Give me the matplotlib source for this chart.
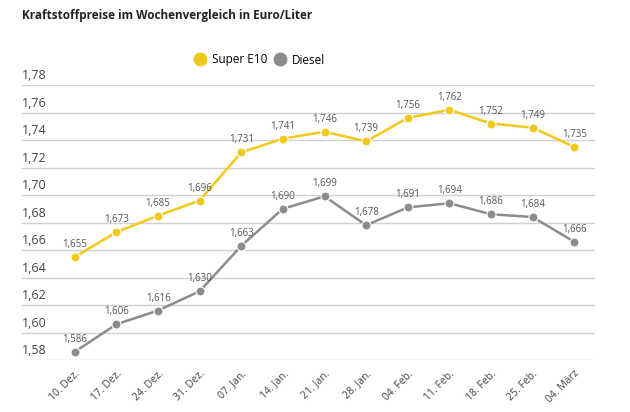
import matplotlib.pyplot as plt
from matplotlib.lines import Line2D

dates = ["10. Dez.", "17. Dez.", "24. Dez.", "31. Dez.", "07. Jan.", "14. Jan.", "21. Jan.",
         "28. Jan.", "04. Feb.", "11. Feb.", "18. Feb.", "25. Feb.", "04. März"]
super_e10 = [1.655, 1.673, 1.685, 1.696, 1.731, 1.741, 1.746, 1.739, 1.756, 1.762, 1.752, 1.749, 1.735]
diesel = [1.586, 1.606, 1.616, 1.630, 1.663, 1.690, 1.699, 1.678, 1.691, 1.694, 1.686, 1.684, 1.666]
yticks = [1.58, 1.60, 1.62, 1.64, 1.66, 1.68, 1.70, 1.72, 1.74, 1.76, 1.78]

yellow = "#F2C81A"
grey = "#8C8C8C"

plt.rcParams['font.family'] = ['Open Sans', 'DejaVu Sans']

fig = plt.figure(figsize=(6.3, 4.12), dpi=100)
ax = fig.add_axes([22 / 630, 52 / 412, (595 - 22) / 630, (360 - 85) / 412])

x = list(range(len(dates)))
for vals, col in ((super_e10, yellow), (diesel, grey)):
    ax.plot(x, vals, color=col, lw=1.8, marker="o", ms=6.5, mfc=col,
            mec="white", mew=0.8, zorder=3)
    for i, v in enumerate(vals):
        ax.annotate(f"{v:.3f}".replace(".", ","), (i, v), xytext=(0, 5),
                    textcoords="offset points", ha="center", va="bottom",
                    fontsize=7, color="#555555")

ax.set_xlim(-1.27, 12.5)
ax.set_ylim(1.58, 1.78)
ax.set_yticks(yticks)
ax.yaxis.grid(True, color="#D0D0D0", lw=1)
ax.set_axisbelow(True)
ax.tick_params(axis="y", length=0, labelleft=False)
for t in yticks:
    ax.annotate(f"{t:.2f}".replace(".", ","), (0, t), xycoords=ax.get_yaxis_transform(),
                xytext=(0, 2), textcoords="offset points", ha="left", va="bottom",
                fontsize=9, color="#444444")

ax.set_xticks(x)
ax.set_xticklabels(dates, rotation=45, ha="right", rotation_mode="anchor",
                   fontsize=7.5, color="#444444")
ax.tick_params(axis="x", length=0, pad=6)
for s in ax.spines.values():
    s.set_visible(False)

fig.text(22 / 630, 1 - 16 / 412, "Kraftstoffpreise im Wochenvergleich in Euro/Liter",
         fontsize=8.5, fontweight="bold", color="#222222", va="center")

handles = [Line2D([], [], ls="", marker="o", ms=9, color=yellow),
           Line2D([], [], ls="", marker="o", ms=9, color=grey)]
fig.legend(handles, ["Super E10", "Diesel"], loc="center", ncol=2,
           bbox_to_anchor=(259 / 630, 1 - 60 / 412), frameon=False, fontsize=8.5,
           handletextpad=0.4, columnspacing=0.5, handlelength=1.2)

fig.savefig("out.png", dpi=100, facecolor="white")
